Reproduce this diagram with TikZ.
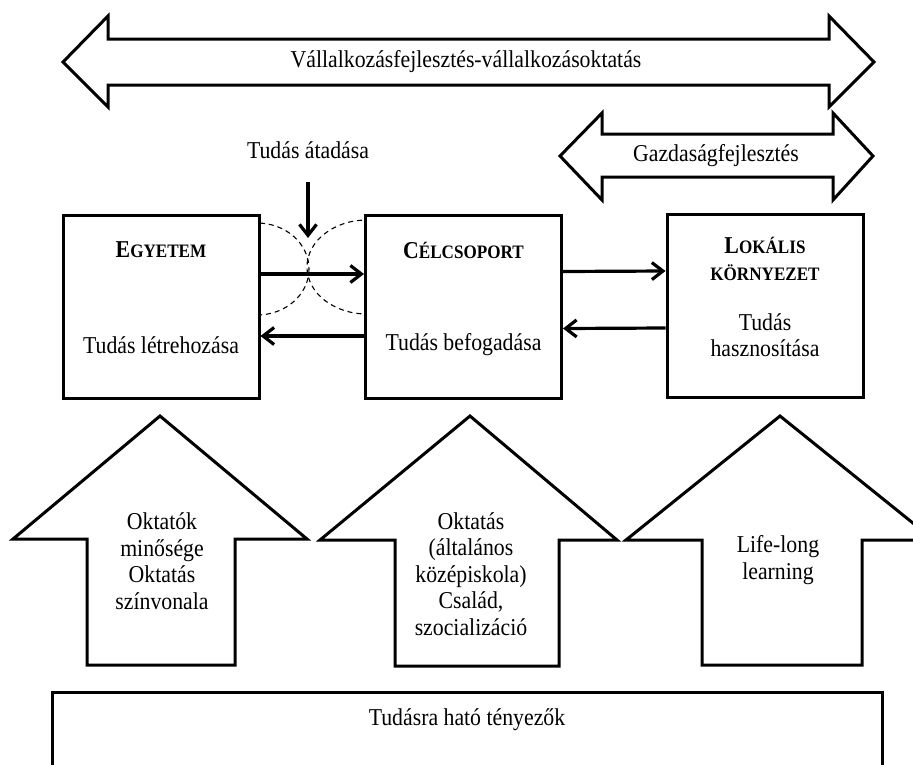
\documentclass[tikz,border=0pt]{standalone}
\usepackage{fontspec}
\setmainfont{Liberation Serif}[FakeStretch=0.9]
\usetikzlibrary{arrows.meta,calc}
\newcommand\mysc[1]{{\fontsize{19}{22}\selectfont #1}}
\begin{document}
\begin{tikzpicture}[x=1pt,y=-1pt,
  blockarrow/.style={draw=black,line width=3pt,fill=white,line join=miter},
  boxnode/.style={draw=black,line width=3pt,fill=white,minimum width=196pt,minimum height=183pt,inner sep=0pt},
  txt/.style={font=\fontsize{24.2}{26.5}\selectfont,align=center,inner sep=0pt},
  hd/.style={font=\fontsize{24.2}{26.5}\selectfont\bfseries,align=center,inner sep=0pt},
  conn/.style={line width=3.2pt,-{Straight Barb[length=11pt,width=17pt]}},
  dasharc/.style={draw=black,line width=1.1pt,dash pattern=on 5pt off 4pt}]
\clip (0,0) rectangle (913,764);
\useasboundingbox (0,0) rectangle (913,764);
\fill[white] (0,0) rectangle (913,764);

% top double arrow
\draw[blockarrow] (63,62) -- (108,16) -- (108,39) -- (829,39) -- (829,16) -- (874,62)
  -- (829,107) -- (829,85) -- (108,85) -- (108,107) -- cycle;
\node[txt] (vt) at (466,62) {Vállalkozásfejlesztés-vállalkozásoktatás};

% Gazdasagfejlesztes arrow
\draw[blockarrow] (560,156) -- (602,113) -- (602,134) -- (833,134) -- (833,113) -- (873,156)
  -- (833,200) -- (833,177) -- (602,177) -- (602,200) -- cycle;
\node[txt] (gt) at (716,156) {Gazdaságfejlesztés};

% Tudas atadasa
\node[txt] (ta) at (308,150) {Tudás átadása};
\coordinate (dtop) at (308,182);
\coordinate (dend) at (308,238);
\draw[conn] (dtop) -- (dend);

% dashed overlapping ellipses
\draw[dasharc] (257,269) ellipse [x radius=52, y radius=46];
\draw[dasharc] (367,267) ellipse [x radius=60, y radius=47];

% boxes
\node[boxnode] (egy) at (161,306.5) {};
\node[boxnode] (cel) at (463.5,306.5) {};
\node[boxnode] (lok) at (765,306) {};

\node[hd] (egyh) at (161,250) {E\mysc{GYETEM}};
\node[txt] (egyt) at (161,345) {Tudás létrehozása};
\node[hd] (celh) at (463.5,250) {C\mysc{ÉLCSOPORT}};
\node[txt] (celt) at (463.5,345) {Tudás befogadása};
\node[hd] (lokh1) at (765,245) {L\mysc{OKÁLIS}};
\node[hd] (lokh2) at (765,273) {\mysc{KÖRNYEZET}};
\node[txt] (lokt) at (765,335) {Tudás\\hasznosítása};

% connectors
\draw[conn] ([yshift=32.5pt]egy.east) -- ([yshift=32.5pt]cel.west);
\draw[conn] ([yshift=-29.5pt]cel.west) -- ([yshift=-29.5pt]egy.east);
\draw[conn] ([yshift=35pt]cel.east) -- ([yshift=35pt]lok.west);
\draw[conn] ([yshift=-22pt]lok.west) -- ([yshift=-22pt]cel.east);

% up arrows
\draw[blockarrow] (160,416) -- (307,539) -- (235,539) -- (235,665) -- (87,665) -- (87,539) -- (13,539) -- cycle;
\node[txt] (u1) at (162,561) {Oktatók\\minősége\\Oktatás\\színvonala};
\draw[blockarrow] (470,416) -- (617,540) -- (559,540) -- (559,666) -- (395,666) -- (395,540) -- (320,540) -- cycle;
\node[txt] (u2) at (471,574) {Oktatás\\(általános\\középiskola)\\Család,\\szocializáció};
\draw[blockarrow] (780,416) -- (934,540) -- (862,540) -- (862,665) -- (702,665) -- (702,540) -- (626,540) -- cycle;
\node[txt] (u3) at (778,560) {Life-long\\learning};

% bottom box
\draw[blockarrow] (52,692) rectangle (882,800);
\node[txt] (bt) at (467,720) {Tudásra ható tényezők};
\end{tikzpicture}
\end{document}
